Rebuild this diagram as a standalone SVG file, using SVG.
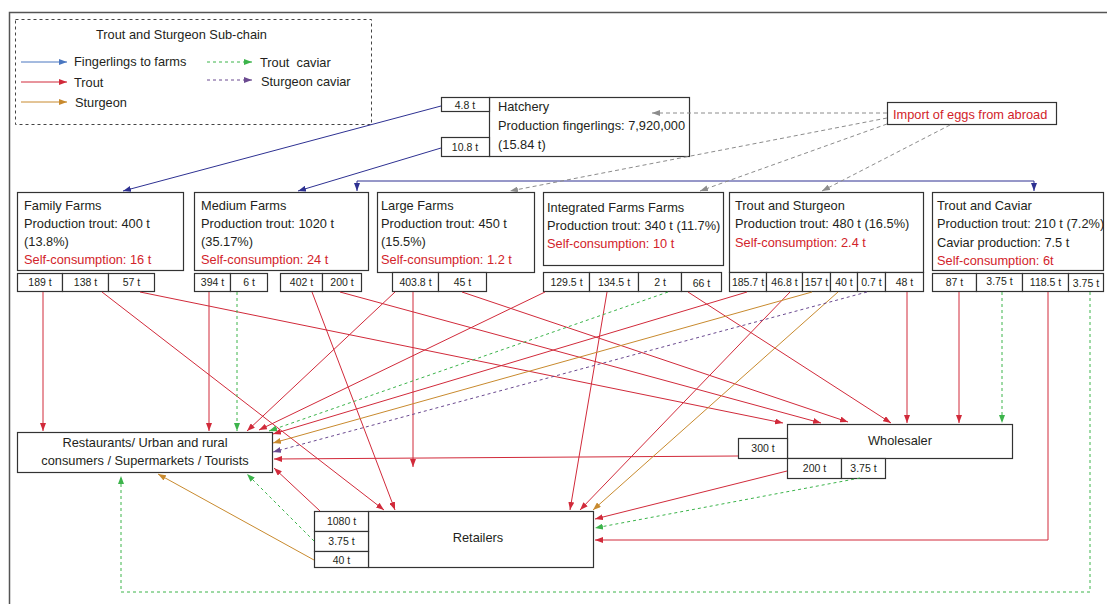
<svg xmlns="http://www.w3.org/2000/svg" width="1107" height="604" viewBox="0 0 1107 604">
<style>
.box{fill:#fff;stroke:#333;stroke-width:1.2}
.t{font-family:"Liberation Sans",Arial,sans-serif;font-size:12.8px;fill:#231f20}
.r{fill:#d2232a}
.c{text-anchor:middle}
.s{font-family:"Liberation Sans",Arial,sans-serif;font-size:10.5px;fill:#231f20;text-anchor:middle}
.ln{fill:none;stroke-width:1}
.red{stroke:#d12a3a;marker-end:url(#aR)}
.blu{stroke:#2e3192;marker-end:url(#aB)}
.lblu{stroke:#4a77c0;marker-end:url(#aLB)}
.org{stroke:#c88a2e;marker-end:url(#aO)}
.grn{stroke:#3cb44b;stroke-dasharray:3 3;marker-end:url(#aG)}
.pur{stroke:#6b4a90;stroke-dasharray:3 3;marker-end:url(#aP)}
.gry{stroke:#8c8c8c;stroke-dasharray:4 3;marker-end:url(#aY)}
</style>
<defs>
<marker id="aR" markerUnits="userSpaceOnUse" markerWidth="8" markerHeight="6" refX="8" refY="3" orient="auto"><path d="M0,0 L8,3 L0,6 z" fill="#d12a3a"/></marker>
<marker id="aB" markerUnits="userSpaceOnUse" markerWidth="8" markerHeight="6" refX="8" refY="3" orient="auto"><path d="M0,0 L8,3 L0,6 z" fill="#2e3192"/></marker>
<marker id="aLB" markerUnits="userSpaceOnUse" markerWidth="8" markerHeight="6" refX="8" refY="3" orient="auto"><path d="M0,0 L8,3 L0,6 z" fill="#4a77c0"/></marker>
<marker id="aO" markerUnits="userSpaceOnUse" markerWidth="8" markerHeight="6" refX="8" refY="3" orient="auto"><path d="M0,0 L8,3 L0,6 z" fill="#c88a2e"/></marker>
<marker id="aG" markerUnits="userSpaceOnUse" markerWidth="8" markerHeight="6" refX="8" refY="3" orient="auto"><path d="M0,0 L8,3 L0,6 z" fill="#3cb44b"/></marker>
<marker id="aP" markerUnits="userSpaceOnUse" markerWidth="8" markerHeight="6" refX="8" refY="3" orient="auto"><path d="M0,0 L8,3 L0,6 z" fill="#6b4a90"/></marker>
<marker id="aY" markerUnits="userSpaceOnUse" markerWidth="8" markerHeight="6" refX="8" refY="3" orient="auto"><path d="M0,0 L8,3 L0,6 z" fill="#8c8c8c"/></marker>
</defs>
<rect width="1107" height="604" fill="#fff"/>
<rect x="9.5" y="12.5" width="1110" height="600" fill="none" stroke="#555" stroke-width="1.5"/>

<g id="legend">
<rect x="15.5" y="19.5" width="356" height="105" fill="none" stroke="#444" stroke-dasharray="3 3"/>
<text class="t" x="96" y="39">Trout and Sturgeon Sub-chain</text>
<path class="ln lblu" d="M21,62 H67"/>
<path class="ln red" d="M21,82 H67"/>
<path class="ln org" d="M21,102 H67"/>
<path class="ln grn" d="M207,62 H252"/>
<path class="ln pur" d="M207,80 H252"/>
<text class="t" x="74" y="66">Fingerlings to farms</text>
<text class="t" x="74" y="87">Trout</text>
<text class="t" x="75" y="107">Sturgeon</text>
<text class="t" x="260" y="67" xml:space="preserve">Trout  caviar</text>
<text class="t" x="261" y="86">Sturgeon caviar</text>
</g>

<g id="hatchery">
<rect class="box" x="489.5" y="97.5" width="200" height="59"/>
<rect class="box" x="441.5" y="97.5" width="48" height="14"/>
<rect class="box" x="441.5" y="137.5" width="48" height="19"/>
<text class="s" x="465" y="108.5" font-size="10">4.8 t</text>
<text class="s" x="465" y="151" font-size="10">10.8 t</text>
<text class="t" x="498" y="111">Hatchery</text>
<text class="t" x="498" y="130">Production fingerlings: 7,920,000</text>
<text class="t" x="498" y="149">(15.84 t)</text>
</g>

<g id="import">
<rect class="box" x="887.5" y="102.5" width="169" height="22"/>
<text class="t r" x="893" y="119">Import of eggs from abroad</text>
</g>

<g id="family">
<rect class="box" x="17.5" y="192.5" width="166" height="78"/>
<text class="t" x="24" y="210">Family Farms</text>
<text class="t" x="24" y="228">Production trout: 400 t</text>
<text class="t" x="24" y="246">(13.8%)</text>
<text class="t r" x="24" y="264">Self-consumption: 16 t</text>
<rect class="box" x="17.5" y="273.5" width="45" height="18"/>
<rect class="box" x="62.5" y="273.5" width="46" height="18"/>
<rect class="box" x="108.5" y="273.5" width="46" height="18"/>
<text class="s" x="40" y="286">189 t</text>
<text class="s" x="85.5" y="286">138 t</text>
<text class="s" x="131.5" y="286">57 t</text>
</g>

<g id="medium">
<rect class="box" x="194.5" y="192.5" width="174" height="78"/>
<text class="t" x="201" y="210">Medium Farms</text>
<text class="t" x="201" y="228">Production trout: 1020 t</text>
<text class="t" x="201" y="246">(35.17%)</text>
<text class="t r" x="201" y="264">Self-consumption: 24 t</text>
<rect class="box" x="194.5" y="273.5" width="36" height="18"/>
<rect class="box" x="230.5" y="273.5" width="37" height="18"/>
<rect class="box" x="280.5" y="273.5" width="42" height="18"/>
<rect class="box" x="322.5" y="273.5" width="39" height="18"/>
<text class="s" x="212.5" y="286">394 t</text>
<text class="s" x="249" y="286">6 t</text>
<text class="s" x="301.5" y="286">402 t</text>
<text class="s" x="342" y="286">200 t</text>
</g>

<g id="large">
<rect class="box" x="377.5" y="192.5" width="157" height="80"/>
<text class="t" x="381" y="210">Large Farms</text>
<text class="t" x="381" y="228">Production trout: 450 t</text>
<text class="t" x="381" y="246">(15.5%)</text>
<text class="t r" x="381" y="264">Self-consumption: 1.2 t</text>
<rect class="box" x="392.5" y="272.5" width="46" height="19"/>
<rect class="box" x="438.5" y="272.5" width="48" height="19"/>
<text class="s" x="415.5" y="286">403.8 t</text>
<text class="s" x="462.5" y="286">45 t</text>
</g>

<g id="integrated">
<rect class="box" x="543.5" y="192.5" width="180" height="73"/>
<text class="t" x="547" y="212">Integrated Farms Farms</text>
<text class="t" x="547" y="230">Production trout: 340 t (11.7%)</text>
<text class="t r" x="547" y="248">Self-consumption: 10 t</text>
<rect class="box" x="543.5" y="272.5" width="46" height="19"/>
<rect class="box" x="589.5" y="272.5" width="49" height="19"/>
<rect class="box" x="638.5" y="272.5" width="43" height="19"/>
<rect class="box" x="681.5" y="272.5" width="40" height="19"/>
<text class="s" x="566.5" y="286">129.5 t</text>
<text class="s" x="614" y="286">134.5 t</text>
<text class="s" x="660" y="286">2 t</text>
<text class="s" x="701.5" y="287">66 t</text>
</g>

<g id="troutsturgeon">
<rect class="box" x="729.5" y="192.5" width="194" height="80"/>
<text class="t" x="735" y="210">Trout and Sturgeon</text>
<text class="t" x="735" y="228">Production trout: 480 t (16.5%)</text>
<text class="t r" x="735" y="247">Self-consumption: 2.4 t</text>
<rect class="box" x="729.5" y="272.5" width="37" height="19"/>
<rect class="box" x="766.5" y="272.5" width="36" height="19"/>
<rect class="box" x="802.5" y="272.5" width="28" height="19"/>
<rect class="box" x="830.5" y="272.5" width="27" height="19"/>
<rect class="box" x="857.5" y="272.5" width="28" height="19"/>
<rect class="box" x="885.5" y="272.5" width="38" height="19"/>
<text class="s" x="748" y="286">185.7 t</text>
<text class="s" x="784.5" y="286">46.8 t</text>
<text class="s" x="816.5" y="286">157 t</text>
<text class="s" x="844" y="286">40 t</text>
<text class="s" x="871.5" y="286">0.7 t</text>
<text class="s" x="904.5" y="286">48 t</text>
</g>

<g id="troutcaviar">
<rect class="box" x="932.5" y="192.5" width="171" height="78"/>
<text class="t" x="937" y="210">Trout and Caviar</text>
<text class="t" x="937" y="228">Production trout: 210 t (7.2%)</text>
<text class="t" x="937" y="247">Caviar production: 7.5 t</text>
<text class="t r" x="937" y="265">Self-consumption: 6t</text>
<rect class="box" x="932.5" y="273.5" width="44" height="18"/>
<rect class="box" x="976.5" y="273.5" width="46" height="18"/>
<rect class="box" x="1022.5" y="273.5" width="46" height="18"/>
<rect class="box" x="1068.5" y="273.5" width="35" height="18"/>
<text class="s" x="954.5" y="286">87 t</text>
<text class="s" x="999.5" y="285">3.75 t</text>
<text class="s" x="1045.5" y="286">118.5 t</text>
<text class="s" x="1086" y="287">3.75 t</text>
</g>

<g id="restaurants">
<rect class="box" x="17.5" y="432.5" width="255" height="40"/>
<text class="t c" x="145" y="447">Restaurants/ Urban and rural</text>
<text class="t c" x="145" y="465">consumers / Supermarkets / Tourists</text>
</g>

<g id="wholesaler">
<rect class="box" x="787.5" y="424.5" width="225" height="34"/>
<text class="t c" x="900" y="445" font-size="13.5">Wholesaler</text>
<rect class="box" x="738.5" y="438.5" width="49" height="20"/>
<rect class="box" x="787.5" y="458.5" width="54" height="20"/>
<rect class="box" x="841.5" y="458.5" width="44" height="20"/>
<text class="s" x="763" y="452" font-size="10">300 t</text>
<text class="s" x="814.5" y="472" font-size="10">200 t</text>
<text class="s" x="863.5" y="472" font-size="10">3.75 t</text>
</g>

<g id="retailers">
<rect class="box" x="368.5" y="511.5" width="225" height="56"/>
<text class="t c" x="478" y="542" font-size="13.5">Retailers</text>
<rect class="box" x="314.5" y="511.5" width="54" height="20"/>
<rect class="box" x="314.5" y="531.5" width="54" height="20"/>
<rect class="box" x="314.5" y="551.5" width="54" height="16"/>
<text class="s" x="341.5" y="525">1080 t</text>
<text class="s" x="341.5" y="545">3.75 t</text>
<text class="s" x="341.5" y="564">40 t</text>
</g>

<g id="connectors">
<path class="ln blu" d="M441,106 L123,191"/>
<path class="ln blu" d="M441,148 L298,191"/>
<path class="ln blu" d="M357,181 H1034 V191"/>
<path class="ln blu" d="M357,181 V191"/>

<path class="ln gry" d="M887,113 L652,113"/>
<path class="ln gry" d="M887,118 L510,191"/>
<path class="ln gry" d="M887,124 L700,191"/>
<path class="ln gry" d="M950,125 L822,191"/>

<path class="ln red" d="M43,292 V431"/>
<path class="ln red" d="M102,292 L384,510"/>
<path class="ln red" d="M140,292 L783,423"/>
<path class="ln red" d="M209,292 V431"/>
<path class="ln red" d="M312,292 L395,510"/>
<path class="ln red" d="M340,292 L821,423"/>
<path class="ln red" d="M413,292 V467"/>
<path class="ln red" d="M395,292 L247,431"/>
<path class="ln red" d="M462,292 L848,422"/>
<path class="ln red" d="M545,292 L259,430"/>
<path class="ln red" d="M607,292 L570,510"/>
<path class="ln red" d="M688,292 L891,423"/>
<path class="ln red" d="M747,292 L273,434"/>
<path class="ln red" d="M790,292 L580,510"/>
<path class="ln red" d="M907,292 V423"/>
<path class="ln red" d="M959,292 V423"/>
<path class="ln red" d="M1048,292 V540 H595"/>
<path class="ln red" d="M738,456 L274,459"/>
<path class="ln red" d="M787,471 L595,519"/>
<path class="ln red" d="M320,511 L274,468"/>

<path class="ln grn" d="M237,292 V431"/>
<path class="ln grn" d="M668,292 L269,431"/>
<path class="ln grn" d="M1002,292 V423"/>
<path class="ln grn" d="M1090,292 V592 H121 V476"/>
<path class="ln grn" d="M860,478 L595,528"/>
<path class="ln grn" d="M314,541 L247,474"/>

<path class="ln org" d="M812,292 L273,443"/>
<path class="ln org" d="M838,292 L593,510"/>
<path class="ln org" d="M314,560 L158,474"/>

<path class="ln pur" d="M867,292 L273,452"/>
</g>
</svg>
